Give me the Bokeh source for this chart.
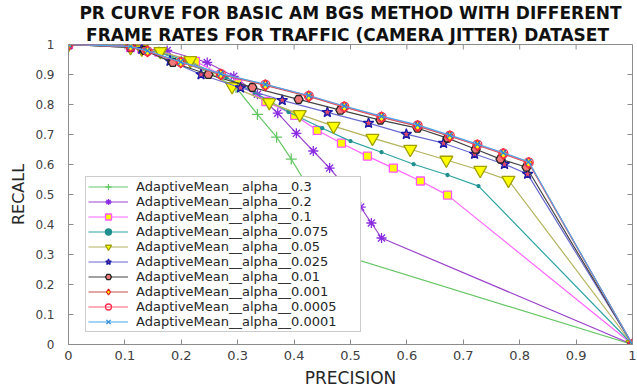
from bokeh.plotting import figure
from bokeh.models import Title, Range1d, FixedTicker, CustomJSTickFormatter, Legend
from bokeh.embed import file_html
from bokeh.resources import INLINE

# Precision / recall pairs for each learning rate (alpha) of the adaptive-mean BGS method
prec_03 = [0.0, 0.11, 0.13, 0.16, 0.20, 0.25, 0.297, 0.335, 0.369, 0.395, 0.42, 0.445, 0.47, 1.0]
rec_03 = [1.0, 0.993, 0.985, 0.975, 0.945, 0.905, 0.857, 0.767, 0.691, 0.618, 0.54, 0.42, 0.307, 0.0]

prec_02 = [0.0, 0.11, 0.13, 0.175, 0.246, 0.293, 0.335, 0.371, 0.404, 0.434, 0.463, 0.491, 0.518, 0.537, 0.555, 1.0]
rec_02 = [1.0, 0.995, 0.985, 0.98, 0.94, 0.894, 0.834, 0.771, 0.704, 0.645, 0.588, 0.525, 0.458, 0.405, 0.355, 0.0]

prec_01 = [0.0, 0.11, 0.13, 0.16, 0.225, 0.30, 0.35, 0.401, 0.441, 0.484, 0.530, 0.576, 0.624, 0.672, 1.0]
rec_01 = [1.0, 0.99, 0.985, 0.975, 0.944, 0.87, 0.81, 0.764, 0.714, 0.671, 0.628, 0.588, 0.545, 0.498, 0.0]

prec_0075 = [0.0, 0.11, 0.13, 0.16, 0.21, 0.28, 0.33, 0.39, 0.45, 0.50, 0.555, 0.612, 0.672, 0.727, 1.0]
rec_0075 = [1.0, 0.99, 0.985, 0.975, 0.945, 0.89, 0.84, 0.775, 0.721, 0.678, 0.641, 0.601, 0.565, 0.528, 0.0]

prec_005 = [0.0, 0.11, 0.13, 0.163, 0.216, 0.29, 0.356, 0.41, 0.47, 0.539, 0.606, 0.67, 0.73, 0.78, 1.0]
rec_005 = [1.0, 0.99, 0.985, 0.977, 0.947, 0.86, 0.807, 0.767, 0.728, 0.688, 0.651, 0.615, 0.581, 0.548, 0.0]

prec_0025 = [0.0, 0.11, 0.13, 0.18, 0.235, 0.305, 0.379, 0.459, 0.532, 0.599, 0.665, 0.720, 0.773, 0.814, 1.0]
rec_0025 = [1.0, 0.993, 0.985, 0.945, 0.90, 0.856, 0.814, 0.774, 0.738, 0.701, 0.671, 0.635, 0.601, 0.568, 0.0]

prec_001 = [0.0, 0.11, 0.135, 0.185, 0.248, 0.326, 0.408, 0.482, 0.553, 0.619, 0.672, 0.722, 0.766, 0.812, 1.0]
rec_001 = [1.0, 0.99, 0.98, 0.94, 0.90, 0.857, 0.817, 0.781, 0.748, 0.721, 0.688, 0.651, 0.618, 0.591, 0.0]

prec_0001 = [0.0, 0.11, 0.14, 0.199, 0.27, 0.349, 0.426, 0.489, 0.555, 0.619, 0.676, 0.725, 0.771, 0.816, 1.0]
rec_0001 = [1.0, 0.993, 0.977, 0.94, 0.90, 0.864, 0.827, 0.791, 0.757, 0.728, 0.694, 0.664, 0.635, 0.605, 0.0]

prec_00005 = [0.0, 0.11, 0.14, 0.199, 0.27, 0.349, 0.426, 0.489, 0.555, 0.619, 0.676, 0.725, 0.771, 0.816, 1.0]
rec_00005 = [1.0, 0.993, 0.978, 0.941, 0.902, 0.866, 0.829, 0.793, 0.759, 0.73, 0.696, 0.666, 0.637, 0.607, 0.0]

prec_00001 = [0.0, 0.11, 0.14, 0.199, 0.27, 0.349, 0.426, 0.489, 0.555, 0.619, 0.676, 0.725, 0.771, 0.816, 1.0]
rec_00001 = [1.0, 0.994, 0.979, 0.942, 0.903, 0.867, 0.83, 0.795, 0.761, 0.732, 0.698, 0.668, 0.639, 0.609, 0.0]

ticks = [0.0, 0.1, 0.2, 0.3, 0.4, 0.5, 0.6, 0.7, 0.8, 0.9, 1.0]

series = [
    ("AdaptiveMean__alpha__0.3", prec_03, rec_03, "#66c766", "cross", 11, "#66c766", "#66c766"),
    ("AdaptiveMean__alpha__0.2", prec_02, rec_02, "#9b45cc", "asterisk", 10, "#8a2be2", "#8a2be2"),
    ("AdaptiveMean__alpha__0.1", prec_01, rec_01, "#ff66ff", "square", 8, "#ff55ff", "#ffff00"),
    ("AdaptiveMean__alpha__0.075", prec_0075, rec_0075, "#2fa3a3", "circle", 3, "#1f8f8f", "#1f8f8f"),
    ("AdaptiveMean__alpha__0.05", prec_005, rec_005, "#b3b35c", "inverted_triangle", 13, "#a0a000", "#ffff00"),
    ("AdaptiveMean__alpha__0.025", prec_0025, rec_0025, "#6a6ad0", "star", 11, "#1a1aa8", "#e04a6a"),
    ("AdaptiveMean__alpha__0.01", prec_001, rec_001, "#444444", "hex", 9, "#222222", "#f07878"),
    ("AdaptiveMean__alpha__0.001", prec_0001, rec_0001, "#c0504d", "diamond", 11, "#e02020", "#ffff00"),
    ("AdaptiveMean__alpha__0.0005", prec_00005, rec_00005, "#ff5a78", "circle", 9, "#ff3050", None),
    ("AdaptiveMean__alpha__0.0001", prec_00001, rec_00001, "#4da6e8", "x", 8, "#2a8ad8", None),
]

W, H = 637, 390
BL, BR, BT, BB = 68, 5, 44, 45

p = figure(width=W, height=H, output_backend="svg", toolbar_location=None,
           x_range=Range1d(0, 1), y_range=Range1d(0, 1),
           min_border_left=BL, min_border_right=BR, min_border_top=BT, min_border_bottom=BB)
p.grid.visible = False
p.outline_line_color = "#8c8c8c"
p.background_fill_color = "white"

fmt = CustomJSTickFormatter(code="return tick.toFixed(1).replace(/\\.0$/, '');")

for ax in (p.xaxis[0], p.yaxis[0]):
    ax.ticker = FixedTicker(ticks=ticks)
    ax.formatter = fmt
    ax.axis_line_color = "#8c8c8c"
    ax.major_tick_line_color = "#8c8c8c"
    ax.major_tick_in = 5
    ax.major_tick_out = 0
    ax.minor_tick_line_color = None
    ax.major_label_text_font = "DejaVu Sans"
    ax.major_label_text_color = "#404040"
    ax.axis_label_text_font = "DejaVu Sans"
    ax.axis_label_text_font_style = "normal"
    ax.axis_label_text_color = "#262626"

p.xaxis.axis_label = "PRECISION"
p.yaxis.axis_label = "RECALL"
p.xaxis.major_label_text_font_size = "13px"
p.yaxis.major_label_text_font_size = "12px"
p.xaxis.axis_label_text_font_size = "17px"
p.yaxis.axis_label_text_font_size = "16px"
p.xaxis.major_label_standoff = 6
p.yaxis.major_label_standoff = 14
p.xaxis.axis_label_standoff = 5
p.yaxis.axis_label_standoff = 4

# mirrored inward tick marks along the top and right edges of the box
fw, fh = W - BL - BR, H - BT - BB
tx, ty = 5.0 / fw, 5.0 / fh
p.segment(x0=ticks, y0=[1.0] * len(ticks), x1=ticks, y1=[1.0 - ty] * len(ticks),
          line_color="#8c8c8c", line_width=1)
p.segment(x0=[1.0] * len(ticks), y0=ticks, x1=[1.0 - tx] * len(ticks), y1=ticks,
          line_color="#8c8c8c", line_width=1)

items = []
for label, xs, ys, lc, marker, size, mlc, mfc in series:
    r1 = p.line(xs, ys, line_color=lc, line_width=1.2)
    r2 = p.scatter(xs, ys, marker=marker, size=size, line_color=mlc,
                   fill_color=mfc if mfc else None, line_width=1.3)
    items.append((label, [r1, r2]))

legend = Legend(items=items, location=(17, 12))
legend.border_line_color = "#9a9a9a"
legend.border_line_width = 1
legend.background_fill_color = "white"
legend.background_fill_alpha = 1.0
legend.label_text_font = "DejaVu Sans"
legend.label_text_font_size = "13px"
legend.label_text_color = "#262626"
legend.glyph_width = 40
legend.glyph_height = 15
legend.label_height = 15
legend.label_width = 222
legend.label_standoff = 8
legend.spacing = 0
legend.padding = 2
legend.margin = 0
p.add_layout(legend, "center")

for text in ("FRAME RATES FOR  TRAFFIC (CAMERA JITTER) DATASET",
             "PR CURVE FOR BASIC AM BGS METHOD WITH DIFFERENT"):
    p.add_layout(Title(text=text, align="center", text_font="DejaVu Sans",
                       text_font_size="17px", text_font_style="bold",
                       text_color="#111111", standoff=0, offset=0), "above")

open("out.html", "w").write(file_html(p, INLINE))
